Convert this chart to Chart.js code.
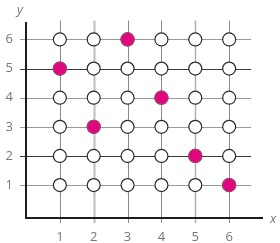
<!DOCTYPE html>
<meta charset="UTF-8">
<style>
  html, body { margin: 0; padding: 0; background: #fff; }
  #wrap { width: 280px; height: 243px; }
</style>
<div id="wrap">
  <canvas id="myChart" width="280" height="243"></canvas>
</div>

<script src="https://cdn.jsdelivr.net/npm/chart.js@4.4.0/dist/chart.umd.min.js"></script>

<script>
  // grid of positions and the highlighted points
  const xTicks = [1, 2, 3, 4, 5, 6];
  const yTicks = [1, 2, 3, 4, 5, 6];
  const highlightX = [1, 2, 3, 4, 5, 6];
  const highlightY = [5, 3, 6, 4, 2, 1];

  const gridPoints = [];
  for (const x of xTicks) {
    for (const y of yTicks) gridPoints.push({x: x, y: y});
  }
  const hits = highlightX.map((x, i) => ({x: x, y: highlightY[i]}));

  const labelFont = {family: "'Open Sans', 'DejaVu Sans', sans-serif", size: 13};

  // grid lines, axes and axis letters, drawn through the scales
  const gridPlugin = {
    id: 'gridPlugin',
    beforeDatasetsDraw(chart) {
      const c = chart.ctx;
      const xs = chart.scales.x, ys = chart.scales.y;
      const x0 = xs.getPixelForValue(0), y0 = ys.getPixelForValue(-0.13);
      c.save();
      // horizontal lines
      yTicks.forEach(v => {
        const p = Math.round(ys.getPixelForValue(v)) + 0.5;
        const dark = (v === 5 || v === 2);
        c.strokeStyle = dark ? '#3a3a3a' : '#9a9a9a';
        c.lineWidth = 1;
        c.beginPath();
        c.moveTo(x0 - 6, p);
        c.lineTo(xs.getPixelForValue(6.65), p);
        c.stroke();
      });
      // vertical lines
      xTicks.forEach(v => {
        const p = Math.round(xs.getPixelForValue(v)) + 0.5;
        let col = '#8a8a8a', w = 1;
        if (v === 2) { col = '#bdbdbd'; w = 2; }
        if (v === 5) { col = '#b0b0b0'; w = 1.5; }
        c.strokeStyle = col;
        c.lineWidth = w;
        c.beginPath();
        c.moveTo(p, y0 + 5);
        c.lineTo(p, ys.getPixelForValue(6.65));
        c.stroke();
      });
      // axes
      c.strokeStyle = '#1e1e1e';
      c.lineWidth = 2;
      c.beginPath();
      c.moveTo(x0, ys.getPixelForValue(6.6));
      c.lineTo(x0, y0);
      c.lineTo(xs.getPixelForValue(7), y0);
      c.stroke();
      // axis letters
      c.fillStyle = '#777';
      c.font = "italic 13px 'Open Sans', 'DejaVu Sans', sans-serif";
      c.textAlign = 'center';
      c.textBaseline = 'middle';
      c.fillText('y', x0 - 6, 10);
      c.fillText('x', xs.getPixelForValue(7) + 10, y0 + 1);
      c.restore();
    }
  };

  const config = {
    type: 'scatter',
    data: {
      datasets: [
        {
          label: 'chosen',
          data: hits,
          order: 0,
          pointRadius: 6.5,
          pointBackgroundColor: '#e2067e',
          pointBorderColor: '#b23a78',
          pointBorderWidth: 1.2,
        },
        {
          label: 'grid',
          data: gridPoints,
          order: 1,
          pointRadius: 6.5,
          pointBackgroundColor: '#fff',
          pointBorderColor: '#2a2a2a',
          pointBorderWidth: 1.2,
        }
      ]
    },
    options: {
      responsive: false,
      animation: false,
      events: [],
      layout: { padding: {top: 22, right: 17, left: 0, bottom: 0} },
      plugins: {
        legend: { display: false },
        tooltip: { enabled: false },
      },
      scales: {
        x: {
          type: 'linear',
          min: 0,
          max: 7,
          border: { display: false },
          grid: { display: false, drawTicks: false },
          afterBuildTicks: s => { s.ticks = xTicks.map(v => ({value: v})); },
          afterFit: s => { s.height = 25; },
          ticks: { color: '#777', font: labelFont, padding: 11, maxRotation: 0 },
        },
        y: {
          type: 'linear',
          min: -0.13,
          max: 6.6,
          border: { display: false },
          grid: { display: false, drawTicks: false },
          afterBuildTicks: s => { s.ticks = yTicks.map(v => ({value: v})); },
          afterFit: s => { s.width = 26; },
          ticks: { color: '#777', font: labelFont, padding: 13 },
        }
      }
    },
    plugins: [gridPlugin]
  };

  new Chart(document.getElementById('myChart'), config);
</script>
